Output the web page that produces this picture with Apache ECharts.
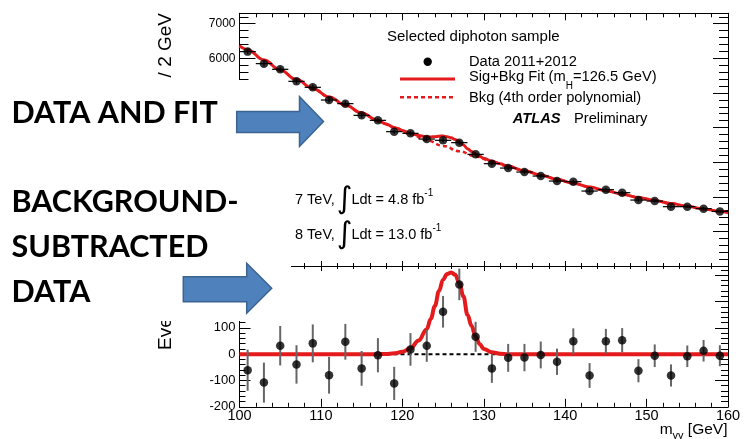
<!DOCTYPE html>
<html><head><meta charset="utf-8">
<script src="https://cdn.jsdelivr.net/npm/echarts@6/dist/echarts.min.js"></script>
<style>html,body{margin:0;padding:0;background:#fff}#c{width:746px;height:439px}</style>
</head><body><div id="c"></div>
<script>
// ---------- data ----------
const massPoints = [101,103,105,107,109,111,113,115,117,119,121,123,125,127,129,131,133,135,137,139,141,143,145,147,149,151,153,155,157,159];
const dataCounts = [6193,5846,5682,5335,5162,4795,4690,4352,4208,3881,3832,3667,3630,3563,3225,2956,2829,2714,2598,2454,2436,2165,2205,2118,1905,1876,1714,1714,1656,1578];
const residuals = [-61,-108,32,-39,41,-80,47,-54,-4,-111,18,32,161,265,66,-54,-14,-13,-3,-29,49,-81,49,53,-63,-6,-81,-8,13,-6];
const statErrors = [78,76,75,73,72,70,68,66,65,63,62,61,60,60,57,55,53,52,51,50,49,47,47,46,44,43,42,41,41,40];
const binHalfWidth = 1;

const bkgMass = [100,101,103,105,107,109,111,113,115,117,119,121,123,125,127,129,131,133,135,137,139,141,143,145,147,149,151,153,155,157,159,160];
const bkgCounts = [6360,6250,5950,5660,5385,5130,4885,4650,4420,4205,4000,3810,3635,3470,3315,3165,3020,2880,2750,2625,2505,2390,2280,2175,2075,1980,1890,1805,1725,1650,1580,1540];

const fitMass = [100,101,103,105,107,109,111,113,115,117,118,119,120,121,122,123,123.5,124,124.5,125,125.5,126,126.5,127,127.5,128,128.5,129,129.5,130,131,132,133,135,137,139,141,143,145,147,149,151,153,155,157,159,160];
const fitCounts = [6360,6250,5950,5660,5385,5130,4885,4650,4420,4205,4102,4003,3913,3832,3772,3730,3729,3735,3751,3753,3736,3702,3655,3585,3497,3390,3310,3231,3167,3112,3027,2952,2880,2750,2625,2505,2390,2280,2175,2075,1980,1890,1805,1725,1650,1580,1540];

const sigMass = [100,117,118,119,120,121,122,123,123.5,124,124.5,125,125.5,126,126.5,127,127.5,128,128.5,129,129.5,130,131,132,133,160];
const sigCounts = [0,0,1,3,9,22,52,95,135,183,240,283,305,310,302,270,220,150,108,66,38,20,7,2,0,0];

const zeroMass = [100,160];
const zeroLevel = [0,0];

const xTickLabels = [100,110,120,130,140,150,160];
const topYTickLabels = [6000,7000];
const bottomYTickLabels = [-200,-100,0,100];

// ---------- chart ----------
const chart = echarts.init(document.getElementById('c'), null, {renderer:'canvas', width:746, height:439});
const RED = '#e41a1c';
const FONT = 'Liberation Sans';
const L = 239.5, W = 488.5;
const G0T = 13.3, G0H = 252.7, G1T = 266, G1H = 140.8;

function xAx(grid, pos, major, minor, labels){
  return {type:'value', gridIndex:grid, position:pos, min:100, max:160, interval:10,
    axisLine:{show:true, onZero:false, lineStyle:{color:'#000', width:1}},
    axisTick:{show:true, inside:true, length:major, lineStyle:{color:'#000', width:1}},
    minorTick:{show:true, splitNumber:5, length:minor, lineStyle:{color:'#000', width:1}},
    splitLine:{show:false}, minorSplitLine:{show:false},
    axisLabel:{show:!!labels, margin:2, fontSize:14.5, fontFamily:FONT, color:'#000',
      formatter:v => xTickLabels.includes(v) ? String(v) : ''}};
}
function yAx(grid, pos, min, max, interval, len, labels, fs){
  return {type:'value', gridIndex:grid, position:pos, min:min, max:max, interval:interval,
    axisLine:{show:true, onZero:false, lineStyle:{color:'#000', width:1}},
    axisTick:{show:true, inside:true, length:len, lineStyle:{color:'#000', width:1}},
    splitLine:{show:false},
    axisLabel:{show:!!labels, margin:4, fontSize:fs||12, fontFamily:FONT, color:'#000',
      showMaxLabel:false,
      formatter:v => (labels && labels.includes(v)) ? String(v) : ''}};
}

const xAxis = [
  xAx(0,'bottom',5,3,false),   // 0
  xAx(0,'top',7,4,false),      // 1
  xAx(1,'bottom',8,4,true),    // 2
  xAx(1,'top',5,3,false)       // 3
];
const yAxis = [
  yAx(0,'left',0,7300,1000,16,topYTickLabels,12),   // 0 major left top
  yAx(0,'left',0,7300,200,9,null),                  // 1 minor
  yAx(0,'right',0,7300,1000,15,null),               // 2
  yAx(0,'right',0,7300,200,9,null),                 // 3
  yAx(1,'left',-200,335,100,11,bottomYTickLabels,13),// 4
  yAx(1,'left',-200,335,20,6,null),                 // 5
  yAx(1,'right',-200,335,100,13,null),              // 6
  yAx(1,'right',-200,335,20,7,null)                 // 7
];

function errBars(xi, yi, vals, horiz, color, lw){
  return {type:'custom', xAxisIndex:xi, yAxisIndex:yi, z:4, silent:true, clip:false,
    data: massPoints.map((m,i)=>[m, vals[i], statErrors[i]]),
    encode:{x:0, y:1},
    renderItem:(params, api)=>{
      const x = api.value(0), y = api.value(1), e = api.value(2);
      const q0 = api.coord([x, y - e]), q1 = api.coord([x, y + e]);
      const ch = [{type:'line', shape:{x1:q0[0], y1:q0[1], x2:q1[0], y2:q1[1]}, style:{stroke:color, lineWidth:lw}}];
      if (horiz){
        const p0 = api.coord([x - binHalfWidth, y]), p1 = api.coord([x + binHalfWidth, y]);
        ch.push({type:'line', shape:{x1:p0[0], y1:p0[1], x2:p1[0], y2:p1[1]}, style:{stroke:color, lineWidth:lw}});
      }
      return {type:'group', children:ch};
    }};
}

const series = [
  {type:'line', xAxisIndex:0, yAxisIndex:0, z:2, symbol:'none', smooth:0.4, smoothMonotone:'x',
   data: bkgMass.map((m,i)=>[m,bkgCounts[i]]), lineStyle:{color:RED, width:2.5, type:[4,3]}},
  {type:'line', xAxisIndex:0, yAxisIndex:0, z:3, symbol:'none', smooth:0.4, smoothMonotone:'x',
   data: fitMass.map((m,i)=>[m,fitCounts[i]]), lineStyle:{color:RED, width:3}},
  errBars(0, 0, dataCounts, true, '#000', 1.2),
  {type:'scatter', xAxisIndex:0, yAxisIndex:0, z:5, symbol:'circle', symbolSize:8.5,
   data: massPoints.map((m,i)=>[m,dataCounts[i]]), itemStyle:{color:'#000'}},

  {type:'line', xAxisIndex:2, yAxisIndex:4, z:2, symbol:'none',
   data: zeroMass.map((m,i)=>[m,zeroLevel[i]]), lineStyle:{color:'#000', width:2, type:[4,3]}},
  {type:'line', xAxisIndex:2, yAxisIndex:4, z:3, symbol:'none', smooth:0.4, smoothMonotone:'x',
   data: sigMass.map((m,i)=>[m,sigCounts[i]]), lineStyle:{color:RED, width:4}},
  errBars(2, 4, residuals, false, '#666', 2),
  {type:'scatter', xAxisIndex:2, yAxisIndex:4, z:5, symbol:'circle', symbolSize:8.5,
   data: massPoints.map((m,i)=>[m,residuals[i]]), itemStyle:{color:'#000'}}
];

// ---------- annotations ----------
const mctx = document.createElement('canvas').getContext('2d');
function tw(t, size, weight, style, fam){
  mctx.font = `${style||'normal'} ${weight||'normal'} ${size}px "${fam||FONT}"`;
  return mctx.measureText(t).width;
}
const G = [];
function txt(x, y, t, o){
  o = o || {};
  const al = o.align || 'left', va = o.va || 'middle';
  G.push({type:'text', x:x, y:y, z:o.z || 60, rotation:o.rot || 0, silent:true,
    style:{text:t, fill:o.color || '#000', fontSize:o.size || 14.7, fontFamily:o.family || FONT,
      fontWeight:o.weight || 'normal', fontStyle:o.style || 'normal',
      align:al, verticalAlign:va, textAlign:al, textVerticalAlign:va}});
}
function run(x, parts){
  let cx = x;
  for (const p of parts){
    txt(cx, p.y, p.t, p);
    cx += tw(p.t, p.size || 14.7, p.weight, p.style, p.family) + (p.gap || 0);
  }
  return cx;
}

// white cover boxes
G.push({type:'rect', z:50, silent:true, shape:{x:0, y:80, width:258, height:72}, style:{fill:'#fff'}});
G.push({type:'rect', z:50, silent:true, shape:{x:0, y:150, width:291, height:171}, style:{fill:'#fff'}});

// axis titles
txt(165.5, 13, 'Events / 2 GeV', {size:19, rot:Math.PI/2, align:'right', z:40});
txt(165.5, 350, 'Events - Bkg', {size:19, rot:Math.PI/2, align:'left', z:40});
(function(){
  const s1 = 15.5, s2 = 11;
  const total = tw('m', s1) + tw('γγ', s2) + tw(' [GeV]', s1);
  run(727.5 - total, [{t:'m', size:s1, y:430}, {t:'γγ', size:s2, y:436}, {t:' [GeV]', size:s1, y:430}]);
})();

// legend
txt(387, 36.7, 'Selected diphoton sample', {size:15});
G.push({type:'circle', z:60, silent:true, shape:{cx:427.7, cy:61.7, r:4.2}, style:{fill:'#000'}});
txt(469, 61.7, 'Data 2011+2012');
G.push({type:'line', z:60, silent:true, shape:{x1:400, y1:79, x2:455, y2:79}, style:{stroke:RED, lineWidth:3}});
run(469, [{t:'Sig+Bkg Fit (m', y:77.3}, {t:'H', size:10, y:86}, {t:'=126.5 GeV)', y:77.3}]);
G.push({type:'line', z:60, silent:true, shape:{x1:400, y1:97.3, x2:455, y2:97.3}, style:{stroke:RED, lineWidth:2.5, lineDash:[4,3]}});
txt(469, 98, 'Bkg (4th order polynomial)');
txt(512.7, 118.5, 'ATLAS', {weight:'bold', style:'italic'});
txt(574, 118.5, 'Preliminary');

// luminosity
run(295, [{t:'7 TeV,', y:200, size:14.5, gap:2}, {t:'∫', y:200, size:30, family:'DejaVu Sans', gap:-1}, {t:'Ldt = 4.8 fb', y:200, size:14.5}, {t:'-1', y:193, size:10}]);
run(295, [{t:'8 TeV,', y:235, size:14.5, gap:2}, {t:'∫', y:235, size:30, family:'DejaVu Sans', gap:-1}, {t:'Ldt = 13.0 fb', y:235, size:14.5}, {t:'-1', y:228, size:10}]);

// big labels and arrows
const BIG = {size:30.5, weight:'bold', family:'Lato', z:70};
txt(11.5, 113.5, 'DATA AND FIT', BIG);
txt(11.5, 202.5, 'BACKGROUND-', BIG);
txt(11.5, 247.5, 'SUBTRACTED', BIG);
txt(11.5, 292.5, 'DATA', BIG);
const AF = '#4f81bd', AS = '#3b6491';
G.push({type:'polygon', z:70, silent:true, shape:{points:[[236.7,111.5],[299.5,111.5],[299.5,96.5],[323.5,121.5],[299.5,146.5],[299.5,132.5],[236.7,132.5]]}, style:{fill:AF, stroke:AS, lineWidth:1.5}});
G.push({type:'polygon', z:70, silent:true, shape:{points:[[183.3,276.7],[246.7,276.7],[246.7,263.3],[271.7,288.3],[246.7,313.3],[246.7,301.7],[183.3,301.7]]}, style:{fill:AF, stroke:AS, lineWidth:1.5}});

chart.setOption({
  animation:false,
  backgroundColor:'#fff',
  grid:[{left:L, top:G0T, width:W, height:G0H, containLabel:false, outerBoundsMode:'none'},
        {left:L, top:G1T, width:W, height:G1H, containLabel:false, outerBoundsMode:'none'}],
  xAxis:xAxis, yAxis:yAxis, series:series, graphic:{elements:G}
});
</script>
</body></html>
